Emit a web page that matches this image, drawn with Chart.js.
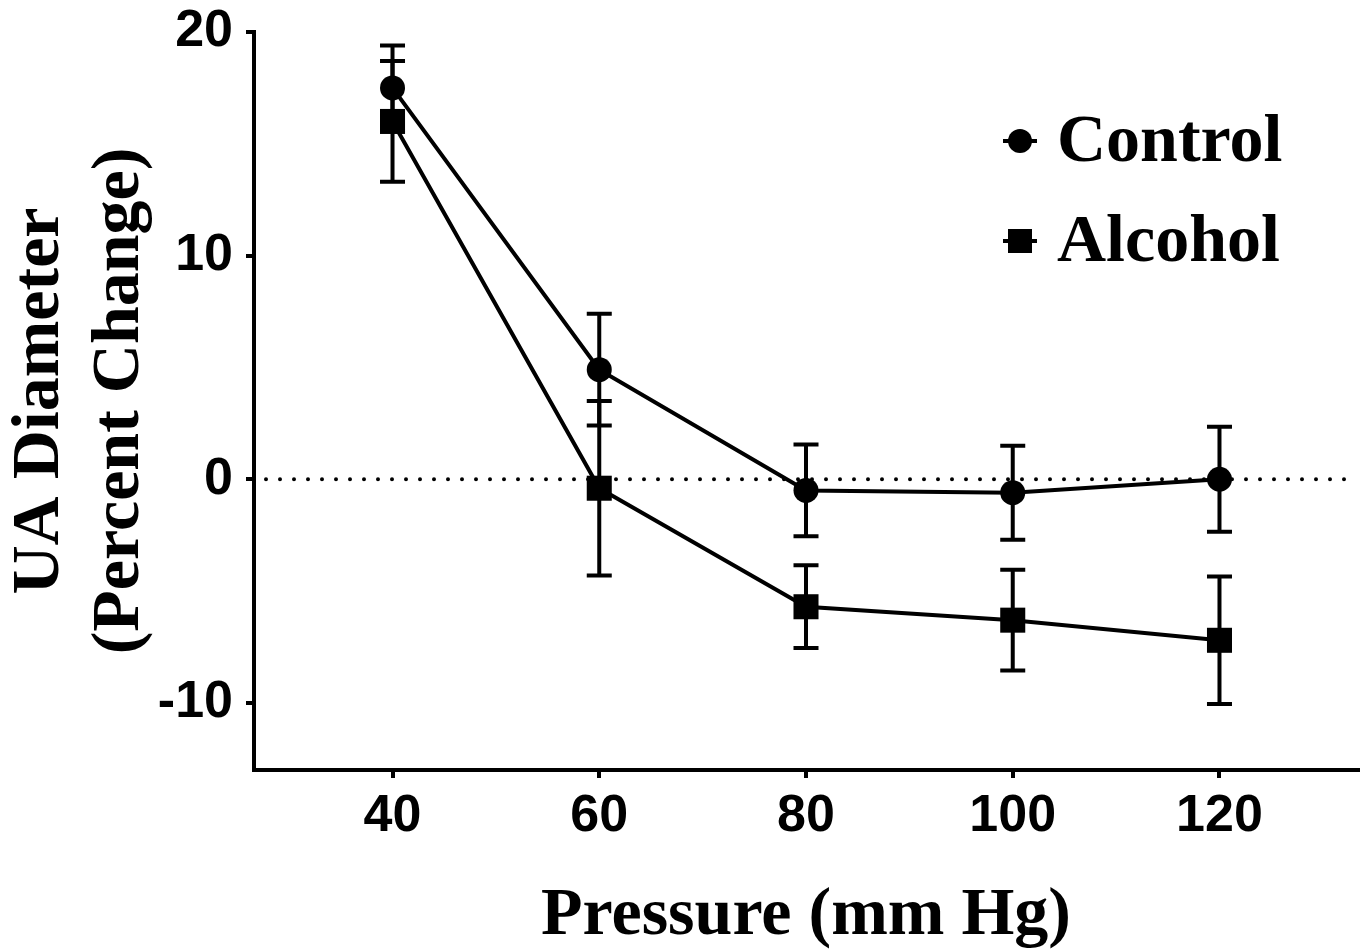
<!DOCTYPE html>
<html>
<head>
<meta charset="utf-8">
<script src="https://cdn.jsdelivr.net/npm/chart.js@4.4.1/dist/chart.umd.min.js"></script>
<style>
html,body{margin:0;padding:0;background:#fff;}
#wrap{width:1365px;height:952px;}
</style>
</head>
<body>
<div id="wrap"><canvas id="c" width="1365" height="952"></canvas></div>
<script>
// ---- data ----
const pressures = [40, 60, 80, 100, 120];
const controlMean = [17.5, 4.9, -0.5, -0.6, 0.0];
const controlErr  = [1.9, 2.5, 2.05, 2.1, 2.35];
const alcoholMean = [16.0, -0.4, -5.7, -6.3, -7.2];
const alcoholErr  = [2.7, 3.9, 1.85, 2.25, 2.85];
const xTickValues = [40, 60, 80, 100, 120];
const yTickValues = [-10, 0, 10, 20];
const seriesLabels = ['Control', 'Alcohol'];
const xTitle = 'Pressure (mm Hg)';
const yTitle = ['UA Diameter', '(Percent Change)'];

const errors = [controlErr, alcoholErr];

const errorBarPlugin = {
  id: 'errorBars',
  beforeDatasetsDraw(chart) {
    const {ctx, scales: {x, y}, chartArea} = chart;
    ctx.save();
    // dotted zero line
    const y0 = y.getPixelForValue(0);
    ctx.strokeStyle = '#000';
    ctx.lineWidth = 4;
    ctx.lineCap = 'round';
    ctx.setLineDash([0, 14]);
    ctx.beginPath();
    ctx.moveTo(chartArea.left + 12, y0);
    ctx.lineTo(chartArea.right - 12, y0);
    ctx.stroke();
    ctx.setLineDash([]);
    ctx.lineCap = 'butt';
    // error bars
    chart.data.datasets.forEach((ds, di) => {
      ds.data.forEach((p, i) => {
        const e = errors[di][i];
        const px = x.getPixelForValue(p.x);
        const yt = y.getPixelForValue(p.y + e);
        const yb = y.getPixelForValue(p.y - e);
        ctx.lineWidth = 4;
        ctx.beginPath();
        ctx.moveTo(px, yt); ctx.lineTo(px, yb);
        ctx.moveTo(px - 12.5, yt); ctx.lineTo(px + 12.5, yt);
        ctx.moveTo(px - 12.5, yb); ctx.lineTo(px + 12.5, yb);
        ctx.stroke();
      });
    });
    ctx.restore();
  }
};

const legendPlugin = {
  id: 'customLegend',
  afterDraw(chart) {
    const {ctx} = chart;
    const mx = 1020, tx = 1057;
    const rows = [141, 241];
    ctx.save();
    ctx.fillStyle = '#000';
    ctx.strokeStyle = '#000';
    ctx.lineWidth = 4;
    chart.data.datasets.forEach((ds, i) => {
      const yy = rows[i];
      ctx.beginPath();
      ctx.moveTo(mx - 17, yy); ctx.lineTo(mx + 17, yy);
      ctx.stroke();
      if (ds.pointStyle === 'circle') {
        ctx.beginPath(); ctx.arc(mx, yy, 12, 0, Math.PI * 2); ctx.fill();
      } else {
        ctx.fillRect(mx - 12, yy - 12, 24, 24);
      }
      ctx.font = 'bold 68px "Liberation Serif", "Times New Roman", serif';
      ctx.textBaseline = 'middle';
      ctx.textAlign = 'left';
      ctx.fillText(ds.label, tx, yy + 2);
    });
    ctx.restore();
  }
};

const tickFont = {family: '"Liberation Sans", Arial, sans-serif', size: 52, weight: 'bold'};
const yTitleFont = {family: '"Liberation Serif", "Times New Roman", serif', size: 68, weight: 'bold', lineHeight: 1.18};
const xTitleFont = {family: '"Liberation Serif", "Times New Roman", serif', size: 68, weight: 'bold', lineHeight: 1.05};

new Chart(document.getElementById('c'), {
  type: 'line',
  data: {
    datasets: [
      {
        label: seriesLabels[0],
        data: pressures.map((p, i) => ({x: p, y: controlMean[i]})),
        borderColor: '#000', backgroundColor: '#000', borderWidth: 4,
        pointStyle: 'circle', pointRadius: 12.5, pointHoverRadius: 12.5,
        pointBackgroundColor: '#000', pointBorderWidth: 0, tension: 0
      },
      {
        label: seriesLabels[1],
        data: pressures.map((p, i) => ({x: p, y: alcoholMean[i]})),
        borderColor: '#000', backgroundColor: '#000', borderWidth: 4,
        pointStyle: 'rect', pointRadius: 17.7, pointHoverRadius: 17.7,
        pointBackgroundColor: '#000', pointBorderWidth: 0, tension: 0
      }
    ]
  },
  options: {
    responsive: false,
    animation: false,
    events: [],
    layout: {autoPadding: false, padding: {top: 32, right: 7, left: 0, bottom: 0}},
    plugins: {legend: {display: false}, tooltip: {enabled: false}},
    scales: {
      x: {
        type: 'linear', min: 26.6, max: 133.4,
        afterBuildTicks(s) { s.ticks = xTickValues.map(v => ({value: v})); },
        afterFit(s) { s.height = 182; s.paddingLeft = 0; s.paddingRight = 0; },
        grid: {display: true, drawOnChartArea: false, drawTicks: true, tickLength: 8, color: '#000', lineWidth: 4},
        border: {display: true, color: '#000', width: 4},
        ticks: {color: '#000', font: tickFont, padding: 7, maxRotation: 0},
        title: {display: true, text: xTitle, color: '#000', font: xTitleFont, padding: {top: 0, bottom: 0}}
      },
      y: {
        type: 'linear', min: -13, max: 20,
        afterBuildTicks(s) { s.ticks = yTickValues.map(v => ({value: v})); },
        afterFit(s) { s.width = 254; s.paddingTop = 0; s.paddingBottom = 0; },
        grid: {display: true, drawOnChartArea: false, drawTicks: true, tickLength: 8, color: '#000', lineWidth: 4},
        border: {display: true, color: '#000', width: 4},
        ticks: {color: '#000', font: tickFont, padding: 13},
        title: {display: true, text: yTitle, color: '#000', font: yTitleFont, padding: {top: 0, bottom: 0}}
      }
    }
  },
  plugins: [errorBarPlugin, legendPlugin]
});
</script>
</body>
</html>
